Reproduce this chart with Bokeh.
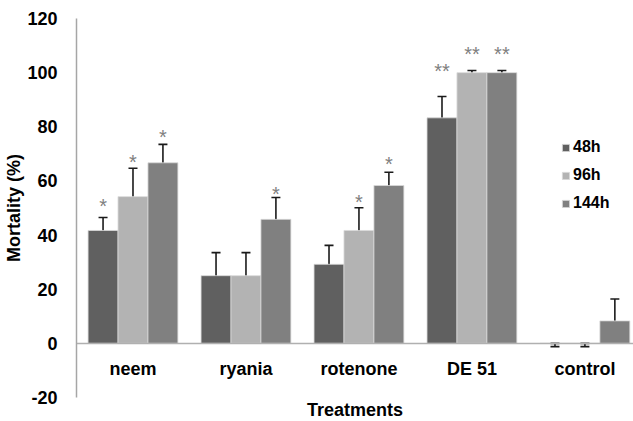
from bokeh.plotting import figure
from bokeh.models import (ColumnDataSource, LinearAxis, Whisker, TeeHead, Legend,
                          LegendItem, Title, FixedTicker)
from bokeh.transform import dodge
from bokeh.core.properties import value
from bokeh.embed import file_html
from bokeh.resources import INLINE

# ---- data ----
categories = ["neem", "ryania", "rotenone", "DE 51", "control"]
series = ["48h", "96h", "144h"]
m48 = [41.7, 25.0, 29.2, 83.3, 0.0]
m96 = [54.2, 25.0, 41.7, 100.0, 0.0]
m144 = [66.7, 45.8, 58.3, 100.0, 8.3]
err_up48 = [4.8, 8.5, 7.0, 7.9, 0.0]
err_up96 = [10.5, 8.5, 8.4, 0.8, 0.0]
err_up144 = [6.8, 8.1, 4.9, 0.8, 8.1]
err_lo48 = [1.2, 1.2, 1.2, 1.2, 1.2]
err_lo96 = [1.2, 1.2, 1.2, 0.8, 1.2]
err_lo144 = [1.2, 1.2, 1.2, 0.8, 1.2]
sig48 = ["*", "", "", "**", ""]
sig96 = ["*", "", "*", "**", ""]
sig144 = ["*", "*", "*", "**", ""]
sig_y48 = [51.0, 0.0, 0.0, 101.1, 0.0]
sig_y96 = [67.2, 0.0, 52.6, 107.4, 0.0]
sig_y144 = [76.5, 55.7, 66.8, 107.4, 0.0]
yticks = [-20, 0, 20, 40, 60, 80, 100, 120]

colors = ["#606060", "#b3b3b3", "#808080"]
FONT = "Liberation Sans"

p = figure(width=633, height=421, x_range=(-0.5, 4.43), y_range=(-20, 120),
           output_backend="svg", toolbar_location=None, x_axis_location=None,
           min_border_left=76, min_border_right=0, min_border_top=18,
           min_border_bottom=24)
p.outline_line_color = None
p.xgrid.visible = False
p.ygrid.visible = False
p.background_fill_color = "white"

# y axis
ya = p.yaxis[0]
ya.ticker = FixedTicker(ticks=yticks)
ya.major_label_overrides = {t: str(t) for t in yticks}
ya.major_tick_line_color = None
ya.minor_tick_line_color = None
ya.axis_line_color = "#a6a6a6"
ya.axis_line_width = 1.5
ya.major_label_text_font = FONT
ya.major_label_text_font_size = "18px"
ya.major_label_text_font_style = "bold"
ya.major_label_text_color = "black"
ya.major_label_standoff = 13
ya.axis_label = "Mortality (%)"
ya.axis_label_text_font = FONT
ya.axis_label_text_font_size = "18px"
ya.axis_label_text_font_style = "bold"
ya.axis_label_text_color = "black"
ya.axis_label_standoff = 0

# x axis crossing at y = 0
xa = LinearAxis(fixed_location=0, ticker=FixedTicker(ticks=list(range(len(categories)))),
                major_label_overrides={i: c for i, c in enumerate(categories)})
xa.major_tick_line_color = None
xa.minor_tick_line_color = None
xa.axis_line_color = "#b0b0b0"
xa.axis_line_width = 1.5
xa.major_label_text_font = FONT
xa.major_label_text_font_size = "18px"
xa.major_label_text_font_style = "bold"
xa.major_label_text_color = "black"
xa.major_label_standoff = 10
p.add_layout(xa, "below")

p.add_layout(Title(text="Treatments", align="center", text_font=FONT,
                   text_font_size="18px", text_font_style="bold",
                   text_color="black", standoff=0, offset=0), "below")

vals = [m48, m96, m144]
ups = [err_up48, err_up96, err_up144]
los = [err_lo48, err_lo96, err_lo144]
sigs = [sig48, sig96, sig144]
sigys = [sig_y48, sig_y96, sig_y144]
offsets = [-0.265, 0.0, 0.265]
items = []
for k in range(3):
    src = ColumnDataSource(dict(
        x=list(range(len(categories))),
        top=vals[k],
        upper=[v + e for v, e in zip(vals[k], ups[k])],
        lower=[v - e for v, e in zip(vals[k], los[k])],
        sig=sigs[k],
        sigy=sigys[k],
    ))
    r = p.vbar(x=dodge("x", offsets[k], range=p.x_range), top="top", bottom=0,
               width=0.265, source=src, fill_color=colors[k],
               line_color="#d9d9d9", line_width=0.8)
    items.append(LegendItem(label=series[k], renderers=[r]))
    w = Whisker(source=src, base=dodge("x", offsets[k], range=p.x_range),
                upper="upper", lower="lower", line_color="#1a1a1a", line_width=1.6,
                upper_head=TeeHead(size=9, line_color="#1a1a1a", line_width=1.6),
                lower_head=TeeHead(size=9, line_color="#1a1a1a", line_width=1.6))
    p.add_layout(w)
    p.text(x=dodge("x", offsets[k], range=p.x_range), y="sigy", text="sig", source=src,
           text_align="center", text_baseline="middle", text_font=value(FONT),
           text_font_size="20px", text_color="#808080", y_offset=1)

legend = Legend(items=items, location=(485, 184), border_line_color=None,
                background_fill_alpha=0, padding=0, margin=0, spacing=8,
                label_height=20, glyph_height=9, glyph_width=9, label_standoff=3,
                label_text_font=FONT, label_text_font_size="16px",
                label_text_font_style="bold", label_text_color="black")
p.add_layout(legend)

open("out.html", "w").write(file_html(p, INLINE))
